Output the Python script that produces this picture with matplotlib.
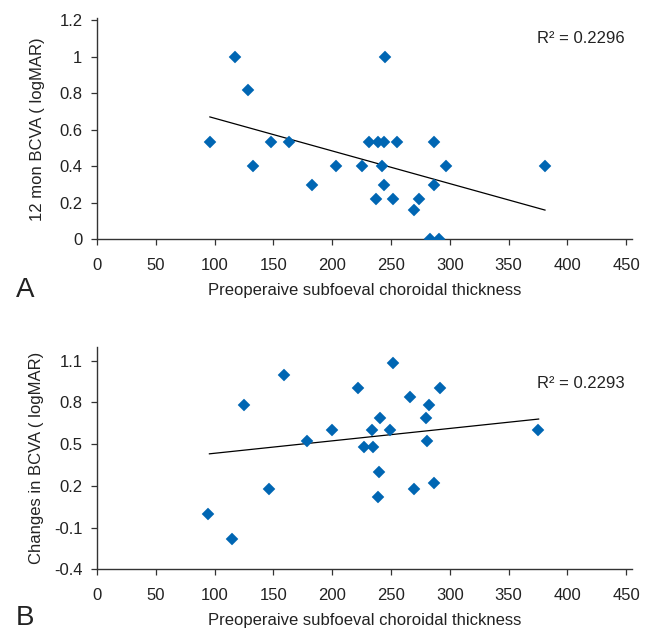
import matplotlib
matplotlib.use("Agg")
import matplotlib.pyplot as plt

plt.rcParams['font.family'] = ['Liberation Sans', 'DejaVu Sans']

# Panel A data
a_thick = [96, 117, 128, 133, 148, 163, 183, 203, 225, 231, 237, 239, 244, 255,
           245, 242, 244, 252, 270, 273.5, 286.5, 287, 297, 283, 291, 381]
a_bcva = [0.53, 1.0, 0.82, 0.40, 0.53, 0.53, 0.30, 0.40, 0.40, 0.53, 0.22, 0.53, 0.53, 0.53,
          1.0, 0.40, 0.30, 0.22, 0.16, 0.22, 0.30, 0.53, 0.40, 0.0, 0.0, 0.40]
a_trend_x = [96, 381]
a_trend_y = [0.67, 0.16]
a_r2 = "R² = 0.2296"

# Panel B data
b_thick = [94, 115, 125, 146, 159, 179, 200, 222, 227, 234, 235, 241, 240, 239,
           249, 252, 266, 270, 282, 280, 281, 287, 292, 375]
b_change = [0.0, -0.18, 0.78, 0.18, 1.0, 0.52, 0.60, 0.90, 0.48, 0.60, 0.48, 0.69, 0.30, 0.12,
            0.60, 1.08, 0.84, 0.18, 0.78, 0.69, 0.52, 0.22, 0.90, 0.60]
b_trend_x = [95.6, 375.6]
b_trend_y = [0.43, 0.68]
b_r2 = "R² = 0.2293"

x_ticks = [0, 50, 100, 150, 200, 250, 300, 350, 400, 450]
a_yticks = [0, 0.2, 0.4, 0.6, 0.8, 1.0, 1.2]
a_ylabels = ["0", "0.2", "0.4", "0.6", "0.8", "1", "1.2"]
b_yticks = [-0.4, -0.1, 0.2, 0.5, 0.8, 1.1]
b_ylabels = ["-0.4", "-0.1", "0.2", "0.5", "0.8", "1.1"]

xlabel = "Preoperaive subfoeval choroidal thickness"
a_ylabel = "12 mon BCVA ( logMAR)"
b_ylabel = "Changes in BCVA ( logMAR)"

W, H = 650, 634
fig = plt.figure(figsize=(W / 100, H / 100), dpi=100)

blue = '#0066b3'
dark = '#333333'
txt = '#222222'
fs = 12

def style(ax):
    for s in ['top', 'right']:
        ax.spines[s].set_visible(False)
    for s in ['left', 'bottom']:
        ax.spines[s].set_color(dark)
        ax.spines[s].set_linewidth(1.0)
    ax.tick_params(direction='out', length=4, width=0.9, color=dark,
                   labelsize=fs, labelcolor=txt)
    ax.tick_params(axis='x', pad=9.5)
    ax.tick_params(axis='y', pad=6.5)

axA = fig.add_axes([97 / W, (H - 239.3) / H, 535 / W, 221 / H])
axA.plot(a_thick, a_bcva, linestyle='none', marker='D', ms=6.1, mfc=blue, mec=blue, mew=0.3, zorder=3)
axA.plot(a_trend_x, a_trend_y, color='black', lw=0.9, zorder=2)
axA.set_xlim(0, 455)
axA.set_ylim(0, 1.21)
axA.set_xticks(x_ticks)
axA.set_yticks(a_yticks)
axA.set_yticklabels(a_ylabels)
style(axA)
axA.set_xlabel(xlabel, fontsize=fs, color=txt, labelpad=7)
axA.set_ylabel(a_ylabel, fontsize=fs, color=txt, labelpad=10)
axA.text(449, 1.10, a_r2, ha='right', va='center', fontsize=fs, color=txt)
fig.text(25 / W, 1 - 290 / H, "A", fontsize=20, ha='center', va='center', color=txt)

axB = fig.add_axes([97 / W, (H - 569.3) / H, 535 / W, 222.6 / H])
axB.plot(b_thick, b_change, linestyle='none', marker='D', ms=6.1, mfc=blue, mec=blue, mew=0.3, zorder=3)
axB.plot(b_trend_x, b_trend_y, color='black', lw=0.9, zorder=2)
axB.set_xlim(0, 455)
axB.set_ylim(-0.4, 1.2)
axB.set_xticks(x_ticks)
axB.set_yticks(b_yticks)
axB.set_yticklabels(b_ylabels)
style(axB)
axB.set_xlabel(xlabel, fontsize=fs, color=txt, labelpad=7)
axB.set_ylabel(b_ylabel, fontsize=fs, color=txt, labelpad=7)
axB.text(449, 0.934, b_r2, ha='right', va='center', fontsize=fs, color=txt)
fig.text(25 / W, 1 - 618 / H, "B", fontsize=20, ha='center', va='center', color=txt)

fig.savefig("out.png", dpi=100)
